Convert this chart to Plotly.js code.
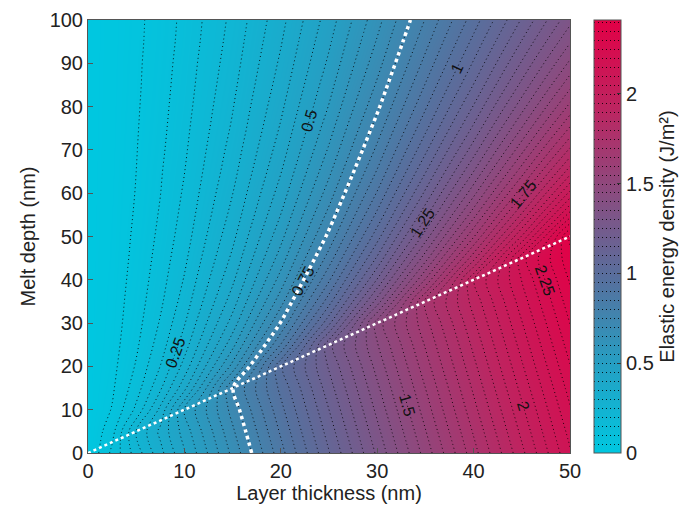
<!DOCTYPE html>
<html>
<head>
<meta charset="utf-8">
<script src="https://cdn.plot.ly/plotly-3.0.1.min.js"></script>
<style>html,body{margin:0;padding:0;background:#fff;}#chart{width:695px;height:510px;}</style>
</head>
<body>
<div id="chart"></div>
<script>
// Layer thickness (nm) grid columns
var thickness = [0, 2.5, 5, 7.5, 10, 15, 20, 25, 30, 35, 40, 45, 50];
// Melt depth (nm) grid rows
var depth = [0, 5, 10, 15, 20, 25, 30, 35, 40, 45, 50, 55, 60, 65, 70, 75, 80, 85, 90, 95, 100];
// Elastic energy density (J/m^2), one row per melt depth
var energy = [
  [0, 0.112, 0.223, 0.334, 0.445, 0.664, 0.881, 1.097, 1.310, 1.521, 1.730, 1.937, 2.143],
  [0, 0.082, 0.251, 0.362, 0.472, 0.691, 0.908, 1.123, 1.336, 1.547, 1.756, 1.963, 2.168],
  [0, 0.053, 0.162, 0.313, 0.501, 0.719, 0.935, 1.150, 1.363, 1.574, 1.783, 1.989, 2.194],
  [0, 0.042, 0.126, 0.241, 0.385, 0.747, 0.963, 1.178, 1.390, 1.600, 1.809, 2.016, 2.220],
  [0, 0.035, 0.105, 0.201, 0.319, 0.618, 0.992, 1.206, 1.418, 1.628, 1.836, 2.043, 2.247],
  [0, 0.030, 0.091, 0.174, 0.276, 0.533, 0.853, 1.234, 1.446, 1.655, 1.863, 2.070, 2.274],
  [0, 0.027, 0.081, 0.155, 0.246, 0.472, 0.754, 1.088, 1.474, 1.683, 1.891, 2.097, 2.301],
  [0, 0.025, 0.074, 0.140, 0.222, 0.426, 0.680, 0.979, 1.323, 1.712, 1.919, 2.125, 2.328],
  [0, 0.023, 0.068, 0.129, 0.204, 0.390, 0.621, 0.893, 1.204, 1.555, 1.947, 2.152, 2.356],
  [0, 0.021, 0.063, 0.120, 0.189, 0.361, 0.573, 0.823, 1.108, 1.428, 1.782, 2.181, 2.383],
  [0, 0.020, 0.059, 0.112, 0.176, 0.337, 0.534, 0.765, 1.029, 1.324, 1.645, 2.005, 2.411],
  [0, 0.019, 0.055, 0.105, 0.166, 0.316, 0.501, 0.717, 0.962, 1.236, 1.531, 1.859, 2.223],
  [0, 0.018, 0.052, 0.099, 0.157, 0.299, 0.472, 0.675, 0.905, 1.161, 1.434, 1.734, 2.064],
  [0, 0.017, 0.050, 0.095, 0.149, 0.283, 0.447, 0.639, 0.855, 1.096, 1.350, 1.627, 1.928],
  [0, 0.016, 0.048, 0.090, 0.142, 0.270, 0.425, 0.607, 0.812, 1.039, 1.276, 1.534, 1.810],
  [0, 0.015, 0.046, 0.086, 0.136, 0.257, 0.406, 0.579, 0.774, 0.988, 1.211, 1.452, 1.706],
  [0, 0.015, 0.044, 0.083, 0.130, 0.247, 0.389, 0.553, 0.739, 0.943, 1.154, 1.379, 1.615],
  [0, 0.014, 0.042, 0.080, 0.125, 0.237, 0.373, 0.531, 0.708, 0.903, 1.102, 1.314, 1.534],
  [0, 0.014, 0.041, 0.077, 0.121, 0.228, 0.359, 0.510, 0.680, 0.866, 1.056, 1.256, 1.461],
  [0, 0.013, 0.039, 0.074, 0.116, 0.220, 0.346, 0.492, 0.655, 0.833, 1.014, 1.203, 1.395],
  [0, 0.013, 0.038, 0.072, 0.113, 0.213, 0.334, 0.475, 0.632, 0.803, 0.975, 1.155, 1.335]
];
// Boundary line: melt depth equal to layer thickness
var boundaryX = [0, 50];
var boundaryY = [0, 50];
// Colorbar ticks
var cbTicks = [0, 0.5, 1, 1.5, 2];
var cbTickText = ['0', '0.5', '1', '1.5', '2'];
var xTicks = [0, 10, 20, 30, 40, 50];
var yTicks = [0, 10, 20, 30, 40, 50, 60, 70, 80, 90, 100];

var FONT = 'Arial, "Liberation Sans", Helvetica, sans-serif';
var scale = [
  [0.0, 'rgb(0,199,224)'],
  [0.2, 'rgb(36,160,196)'],
  [0.4, 'rgb(86,112,158)'],
  [0.6, 'rgb(138,76,128)'],
  [0.8, 'rgb(190,36,96)'],
  [1.0, 'rgb(226,0,70)']
];

var traces = [
  {
    type: 'contour', x: thickness, y: depth, z: energy,
    colorscale: scale, zauto: false, zmin: 0, zmax: 2.41,
    contours: {coloring: 'heatmap', start: 0.05, end: 2.4, size: 0.05, showlabels: false},
    line: {color: 'rgba(0,0,0,0.85)', width: 1, dash: '1px,3px', smoothing: 1},
    hoverinfo: 'skip',
    colorbar: {
      title: {text: 'Elastic energy density (J/m²)', side: 'right', font: {family: FONT, size: 20, color: '#222'}},
      tickvals: cbTicks, ticktext: cbTickText,
      tickfont: {family: FONT, size: 20, color: '#222'},
      thickness: 27, len: 1, lenmode: 'fraction',
      x: 1.05, xanchor: 'left', xpad: 0, y: 0.5, yanchor: 'middle', ypad: 0,
      outlinewidth: 1, outlinecolor: '#555',
      ticks: 'inside', ticklen: 4, tickcolor: '#333'
    }
  },
  {
    type: 'contour', x: thickness, y: depth, z: energy,
    showscale: false,
    contours: {coloring: 'none', start: 0.25, end: 2.25, size: 0.25, showlabels: true,
               labelfont: {family: FONT, size: 16, color: '#111'}},
    line: {color: 'rgba(0,0,0,0)', width: 1, smoothing: 1},
    hoverinfo: 'skip'
  },
  {
    type: 'contour', x: thickness, y: depth, z: energy,
    showscale: false,
    contours: {coloring: 'none', start: 0.75, end: 0.75, size: 1, showlabels: false},
    line: {color: '#ffffff', width: 3.5, dash: 'dot', smoothing: 1},
    hoverinfo: 'skip'
  },
  {
    type: 'scatter', mode: 'lines', x: boundaryX, y: boundaryY,
    line: {color: '#ffffff', width: 2.5, dash: 'dot'},
    hoverinfo: 'skip', showlegend: false
  }
];

var axisCommon = {
  showgrid: false, zeroline: false, showline: true, mirror: true,
  linecolor: '#555', linewidth: 1,
  ticks: 'inside', ticklen: 5, tickcolor: '#555',
  tickfont: {family: FONT, size: 20, color: '#222'}
};

var layout = {
  width: 695, height: 510,
  margin: {l: 88, r: 125, t: 20, b: 57},
  paper_bgcolor: '#fff', plot_bgcolor: '#fff',
  showlegend: false,
  font: {family: FONT, color: '#222'},
  xaxis: Object.assign({}, axisCommon, {
    range: [0, 50], tickvals: xTicks,
    title: {text: 'Layer thickness (nm)', font: {family: FONT, size: 20, color: '#222'}, standoff: 2}
  }),
  yaxis: Object.assign({}, axisCommon, {
    range: [0, 100], tickvals: yTicks,
    title: {text: 'Melt depth (nm)', font: {family: FONT, size: 20, color: '#222'}, standoff: 8}
  })
};

Plotly.newPlot('chart', traces, layout, {displayModeBar: false, staticPlot: true});
</script>
</body>
</html>
